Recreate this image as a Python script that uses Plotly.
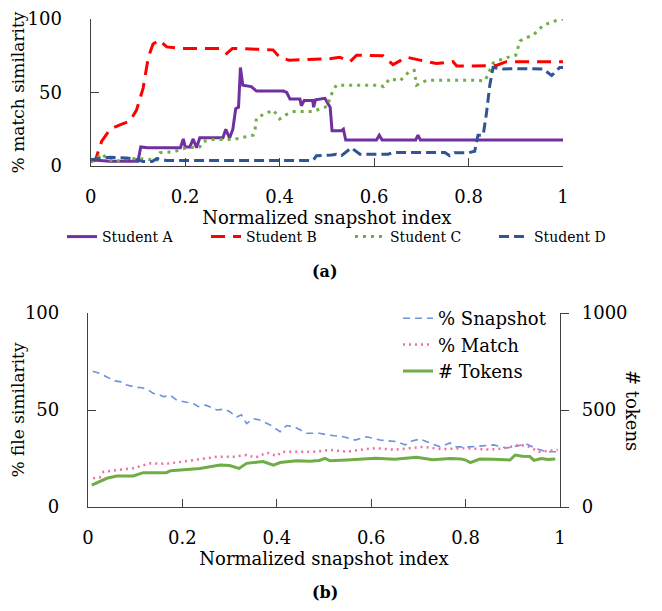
import plotly.graph_objects as go

# ---------------- Data: panel (a) ----------------
xA = [0, 0.02, 0.04, 0.1, 0.106, 0.12, 0.19, 0.196, 0.2, 0.21, 0.217, 0.224, 0.231, 0.28, 0.286, 0.294,
      0.301, 0.307, 0.313, 0.317, 0.322, 0.34, 0.351, 0.408, 0.415, 0.422, 0.443, 0.446, 0.452, 0.47,
      0.472, 0.476, 0.49, 0.496, 0.503, 0.507, 0.511, 0.531, 0.535, 0.54, 0.605, 0.611, 0.617, 0.688,
      0.693, 0.698, 1.0]
yA = [4.3, 4.0, 3.2, 3.2, 13, 12.4, 12.4, 18.4, 13, 13, 18.4, 12.4, 19.2, 19.2, 25, 19,
      25, 39, 40, 67, 55, 54, 51, 51, 50, 45.5, 45.5, 41, 44.6, 44.6,
      40, 45, 46, 46, 42, 40, 24, 24, 25, 17.7, 17.7, 21, 17.7, 17.7,
      21, 17.7, 17.7]

xB = [0, 0.01, 0.023, 0.041, 0.062, 0.083, 0.097, 0.111, 0.122, 0.132, 0.145, 0.161, 0.189, 0.274,
      0.288, 0.30, 0.386, 0.40, 0.42, 0.506, 0.527, 0.549, 0.563, 0.619, 0.64, 0.669, 0.697, 0.732,
      0.767, 0.775, 0.80, 0.859, 0.88, 1.0]
yB = [3, 4, 16.7, 25, 28, 30.5, 38, 53, 74, 83, 85.7, 81, 80, 80,
      76.5, 80, 79, 74, 72, 73, 74, 71, 75.4, 75, 69, 74, 72, 69.7,
      71, 68, 68, 68.4, 71, 71]

xC = [0, 0.012, 0.023, 0.035, 0.052, 0.07, 0.1, 0.14, 0.147, 0.175, 0.203, 0.231, 0.238, 0.26, 0.302,
      0.344, 0.348, 0.351, 0.372, 0.387, 0.40, 0.414, 0.43, 0.47, 0.496, 0.503, 0.506, 0.514, 0.52,
      0.612, 0.62, 0.633, 0.655, 0.676, 0.685, 0.69, 0.711, 0.81, 0.835, 0.852, 0.873, 0.90, 0.909,
      0.92, 0.937, 0.958, 0.986, 1.0]
yC = [3, 5, 8.5, 5, 2.5, 5, 5, 4, 9, 9.6, 12.4, 13, 16.7, 18, 18,
      21, 25, 32.7, 36, 38, 32, 35, 37, 37, 40, 41, 46.6, 52, 55,
      55, 54, 59.4, 58, 64.7, 65, 55, 58.3, 58.3, 58, 70, 73, 75.4, 85,
      87, 89, 95.7, 99, 100]

xD = [0, 0.041, 0.076, 0.095, 0.111, 0.13, 0.14, 0.16, 0.471, 0.478, 0.51, 0.52, 0.531, 0.552, 0.57,
      0.63, 0.64, 0.75, 0.760, 0.77, 0.80, 0.813, 0.82, 0.831, 0.838, 0.845, 0.852, 0.873, 0.90,
      0.958, 0.976, 0.993, 1.0]
yD = [4.3, 6, 5.5, 4.5, 3, 3, 5, 3.8, 3.8, 7, 7.5, 8, 7, 12.4, 8,
      8, 9.2, 9.2, 7, 9, 9, 10, 21, 21, 36, 55, 67, 66, 66.2,
      66, 61.5, 67, 67]

# ---------------- Data: panel (b) ----------------
xS = [0.01, 0.025, 0.04, 0.057, 0.07, 0.082, 0.103, 0.115, 0.128, 0.138, 0.15, 0.16, 0.175, 0.188,
      0.209, 0.222, 0.234, 0.25, 0.273, 0.29, 0.301, 0.315, 0.325, 0.336, 0.35, 0.364, 0.386, 0.407,
      0.421, 0.44, 0.463, 0.49, 0.512, 0.541, 0.566, 0.59, 0.619, 0.654, 0.672, 0.686, 0.703, 0.725,
      0.746, 0.767, 0.78, 0.809, 0.835, 0.859, 0.887, 0.915, 0.929, 0.95, 0.972, 0.993]
yS = [70, 68.9, 67, 65, 64.5, 62.9, 61.7, 61.5, 60.3, 58.6, 58, 56.9, 57.5, 55,
      54, 53.5, 51.7, 52.5, 50, 50.5, 49, 46.4, 47.5, 43, 45.5, 44.8, 42.3, 38.8,
      42, 41, 38, 38, 37, 36.2, 34.5, 36.2, 34.5, 33.7, 32, 34, 35, 32.8,
      31, 33, 31, 31, 31.5, 32, 30.4, 32, 32.5, 30, 28.5, 28.5]

xM = [0.011, 0.025, 0.033, 0.061, 0.096, 0.131, 0.166, 0.202, 0.237, 0.273, 0.308, 0.336, 0.355,
      0.379, 0.40, 0.41, 0.45, 0.48, 0.513, 0.55, 0.583, 0.61, 0.65, 0.71, 0.75, 0.8, 0.85, 0.88,
      0.915, 0.935, 0.955, 0.975, 0.995]
yM = [14.8, 15.3, 18.2, 19, 20, 22.5, 22.3, 23.4, 24.5, 25.9, 25.9, 26.8, 25.5,
      28, 26.3, 28.4, 28.5, 28.5, 29.4, 28.5, 29.7, 30.3, 29.5, 31, 29.8, 30.3, 29.6, 30.2,
      32, 31, 28.5, 29, 29.4]

xT = [0.008, 0.025, 0.04, 0.061, 0.096, 0.117, 0.166, 0.175, 0.202, 0.237, 0.28, 0.30, 0.32, 0.336,
      0.371, 0.393, 0.407, 0.442, 0.47, 0.49, 0.502, 0.513, 0.548, 0.58, 0.61, 0.65, 0.696, 0.73,
      0.767, 0.79, 0.80, 0.81, 0.83, 0.86, 0.894, 0.905, 0.92, 0.936, 0.945, 0.96, 0.975, 0.99]
yT = [113, 130, 148, 160, 160, 177, 177, 187, 191, 199, 216, 214, 199, 225,
      234, 216, 229, 238, 236, 240, 251, 238, 242, 245, 251, 246, 256, 244,
      250, 248, 242, 229, 247, 246, 242, 268, 262, 260, 240, 250, 245, 247]

x_ticks = [0, 0.2, 0.4, 0.6, 0.8, 1]
x_tick_text = ["0", "0.2", "0.4", "0.6", "0.8", "1"]
pct_ticks = [0, 50, 100]
tok_ticks = [0, 500, 1000]

FONT = "DejaVu Serif"
OFF = 8                      # page body margin
W, H = 662 - 2 * OFF, 611 - 2 * OFF
AX = "#404040"


def px_x(px):
    return (px - OFF) / W


def px_y(py):
    return 1 - (py - OFF) / H


fig = go.Figure()

fig.add_trace(go.Scatter(x=xA, y=yA, mode="lines", name="Student A",
                         line=dict(color="#7030A0", width=3), xaxis="x", yaxis="y", legend="legend"))
fig.add_trace(go.Scatter(x=xB, y=yB, mode="lines", name="Student B",
                         line=dict(color="#FF0000", width=3, dash="14px,8px"), xaxis="x", yaxis="y", legend="legend"))
fig.add_trace(go.Scatter(x=xC, y=yC, mode="lines", name="Student C",
                         line=dict(color="#70AD47", width=3, dash="3px,5px"), xaxis="x", yaxis="y", legend="legend"))
fig.add_trace(go.Scatter(x=xD, y=yD, mode="lines", name="Student D",
                         line=dict(color="#2F5597", width=3, dash="10px,5px"), xaxis="x", yaxis="y", legend="legend"))

fig.add_trace(go.Scatter(x=xS, y=yS, mode="lines", name="% Snapshot",
                         line=dict(color="#6A93E0", width=1.6, dash="7px,5px"), xaxis="x2", yaxis="y2", legend="legend2"))
fig.add_trace(go.Scatter(x=xM, y=yM, mode="lines", name="% Match",
                         line=dict(color="#EE6FA8", width=2.5, dash="2px,4px"), xaxis="x2", yaxis="y2", legend="legend2"))
fig.add_trace(go.Scatter(x=xT, y=yT, mode="lines", name="# Tokens",
                         line=dict(color="#70AD47", width=3), xaxis="x2", yaxis="y3", legend="legend2"))

axis_common = dict(showline=True, linecolor=AX, linewidth=1.3, showgrid=False, zeroline=False,
                   automargin=False, ticklabeloverflow="allow", tickcolor=AX,
                   tickfont=dict(family=FONT, size=18, color="black"))
title_font = dict(family=FONT, size=18, color="black")
ytitle_font = dict(family=FONT, size=17, color="black")

fig.update_layout(
    width=W, height=H,
    margin=dict(l=0, r=0, t=0, b=0, autoexpand=False),
    paper_bgcolor="white", plot_bgcolor="white",
    font=dict(family=FONT, color="black"),
    xaxis=dict(domain=[px_x(90.7), px_x(563)], anchor="y", range=[0, 1], tickvals=x_ticks, ticktext=x_tick_text,
               ticks="inside", ticklen=8, ticklabelstandoff=14,
               title=dict(text="Normalized snapshot index", font=title_font, standoff=4),
               **axis_common),
    yaxis=dict(domain=[px_y(166), px_y(19)], anchor="x", range=[0, 100], tickvals=pct_ticks,
               ticks="inside", ticklen=8, ticklabelstandoff=24,
               title=dict(text="% match similarity", font=ytitle_font, standoff=0),
               **axis_common),
    xaxis2=dict(domain=[px_x(88), px_x(560)], anchor="y2", range=[0, 1], tickvals=x_ticks, ticktext=x_tick_text,
                ticks="inside", ticklen=8, ticklabelstandoff=14,
                title=dict(text="Normalized snapshot index", font=title_font, standoff=0),
                **axis_common),
    yaxis2=dict(domain=[px_y(507), px_y(313)], anchor="x2", range=[0, 100], tickvals=pct_ticks,
                ticks="inside", ticklen=8, ticklabelstandoff=24,
                title=dict(text="% file similarity", font=ytitle_font, standoff=0),
                **axis_common),
    yaxis3=dict(overlaying="y2", side="right", anchor="x2", range=[0, 1000], tickvals=tok_ticks,
                ticks="outside", ticklen=8, ticklabelstandoff=9, **axis_common),
    legend=dict(orientation="h", x=px_x(62), xanchor="left", y=px_y(237), yanchor="middle",
                font=dict(family=FONT, size=14), itemwidth=30, entrywidth=99, entrywidthmode="pixels",
                bgcolor="rgba(0,0,0,0)", tracegroupgap=0),
    legend2=dict(orientation="v", x=px_x(398), xanchor="left", y=px_y(300), yanchor="top",
                 font=dict(family=FONT, size=18), itemwidth=30, bgcolor="rgba(0,0,0,0)", tracegroupgap=0),
    showlegend=True,
    annotations=[
        dict(text="<b>(a)</b>", x=px_x(325), y=px_y(271), xref="paper", yref="paper", showarrow=False,
             xanchor="center", yanchor="middle", font=dict(family=FONT, size=16)),
        dict(text="<b>(b)</b>", x=px_x(325), y=px_y(592), xref="paper", yref="paper", showarrow=False,
             xanchor="center", yanchor="middle", font=dict(family=FONT, size=16)),
        dict(text="# tokens", x=px_x(633), y=px_y(410), xref="paper", yref="paper", showarrow=False,
             xanchor="center", yanchor="middle", textangle=90, font=dict(family=FONT, size=18)),
    ],
)

fig.write_html("out.html")
